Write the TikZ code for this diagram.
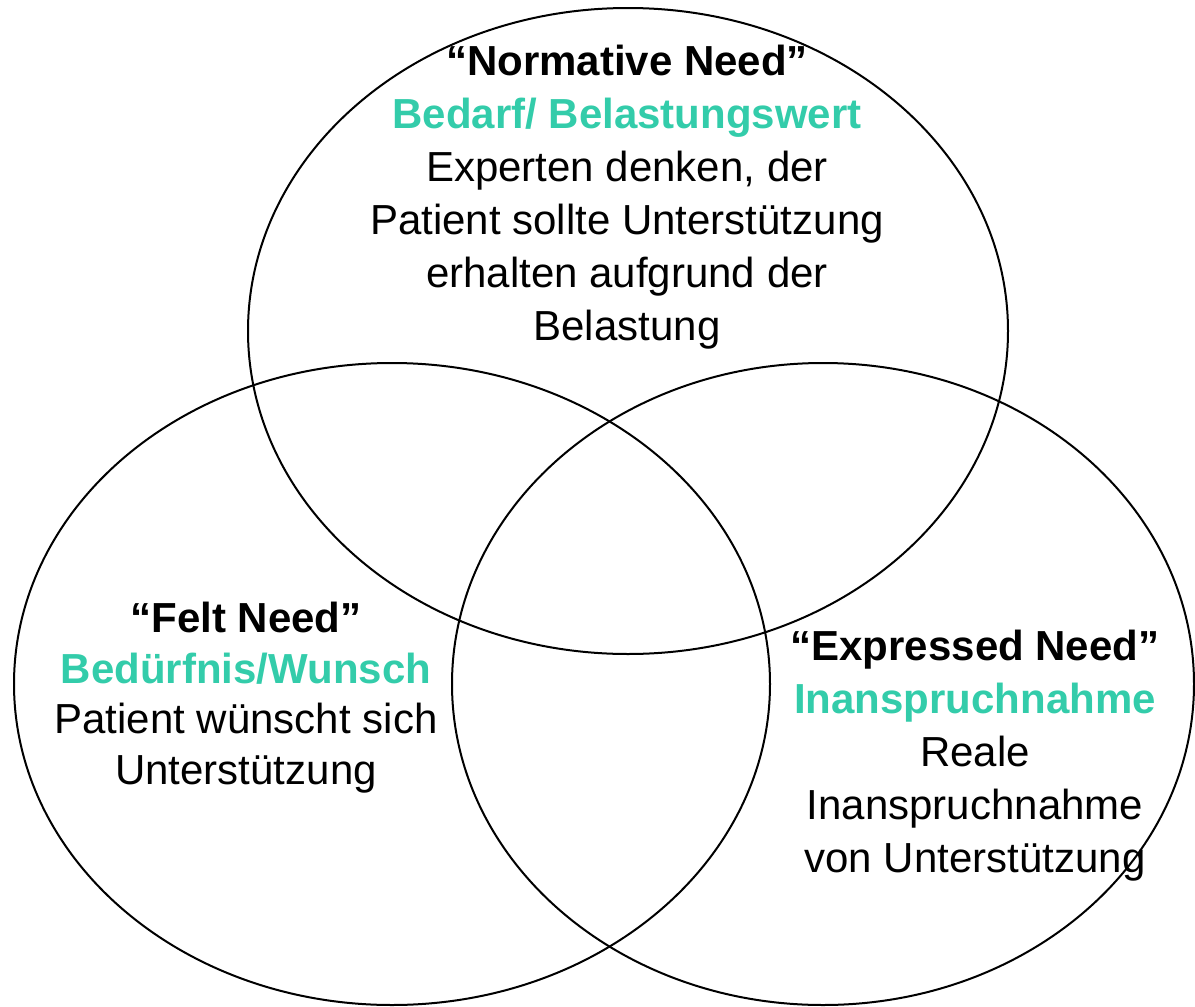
\documentclass[tikz,border=0pt]{standalone}
\usepackage{fontspec}
\setmainfont{Liberation Sans}
\definecolor{needteal}{RGB}{51,204,170}
\begin{document}
\begin{tikzpicture}[x=0.5pt,y=-0.5pt,
  ring/.style={draw=black,line width=1pt},
  label/.style={align=center,inner sep=0pt,anchor=north,
    font=\fontsize{21}{26.5}\selectfont},
  head/.style={font=\bfseries},
  sub/.style={font=\bfseries,text=needteal}]
\useasboundingbox[fill=white] (0,0) rectangle (1195,1007);
% the three overlapping ellipses
\draw[ring] (628,331) ellipse [x radius=190pt,y radius=161.5pt];
\draw[ring] (392,684) ellipse [x radius=189pt,y radius=160.5pt];
\draw[ring] (823,684) ellipse [x radius=185.5pt,y radius=160.5pt];
% texts
\node[label] (normative) at (627,45)
  {\textbf{“Normative Need”}\\
   \textcolor{needteal}{\textbf{Bedarf/ Belastungswert}}\\
   Experten denken, der\\
   Patient sollte Unterstützung\\
   erhalten aufgrund der\\
   Belastung};
\node[label,font=\fontsize{21}{25.2}\selectfont] (felt) at (246,602)
  {\textbf{“Felt Need”}\\
   \textcolor{needteal}{\textbf{Bedürfnis/Wunsch}}\\
   Patient wünscht sich\\
   Unterstützung};
\node[label] (expressed) at (975,630)
  {\textbf{“Expressed Need”}\\
   \textcolor{needteal}{\textbf{Inanspruchnahme}}\\
   Reale\\
   Inanspruchnahme\\
   von Unterstützung};
\end{tikzpicture}
\end{document}
